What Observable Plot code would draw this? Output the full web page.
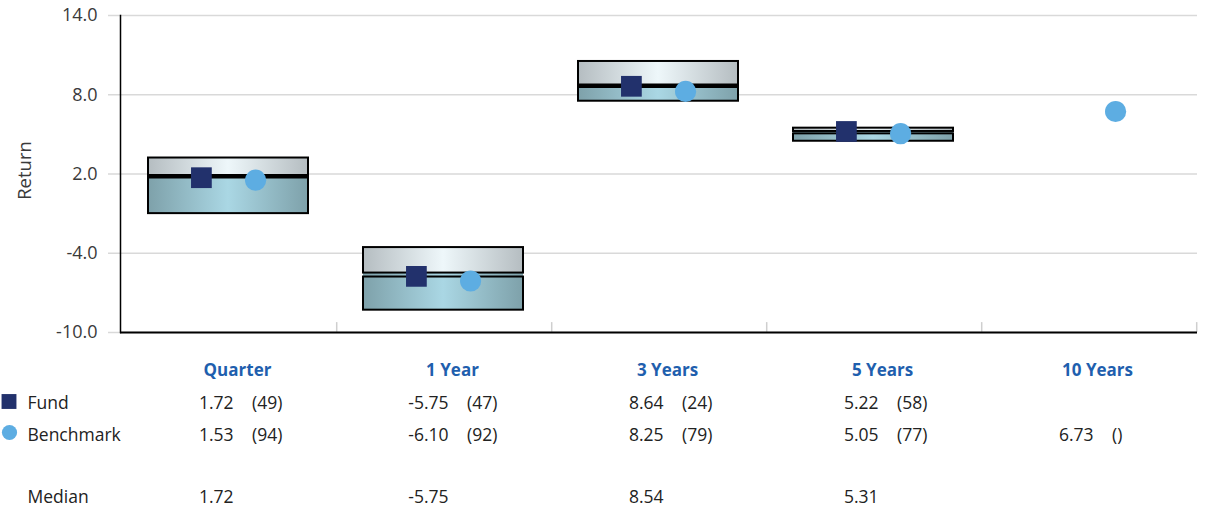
<!DOCTYPE html>
<html><head><meta charset="utf-8">
<script src="https://cdn.jsdelivr.net/npm/d3@7"></script>
<script src="https://cdn.jsdelivr.net/npm/@observablehq/plot@0.6"></script>
<style>body{margin:0;background:#fff;}</style>
</head><body><div id="chart"></div>
<script>
const categories = ["Quarter", "1 Year", "3 Years", "5 Years", "10 Years"];
const fundReturn = [1.72, -5.75, 8.64, 5.22, null];
const fundRank = [49, 47, 24, 58, null];
const benchReturn = [1.53, -6.10, 8.25, 5.05, 6.73];
const benchRank = [94, 92, 79, 77, null];
const medianReturn = [1.72, -5.75, 8.54, 5.31, null];
const boxTop = [3.21, -3.57, 10.52, 5.47, null];
const boxUpperBottom = [1.83, -5.50, 8.68, 5.22, null];
const boxLowerTop = [1.83, -5.80, 8.68, 5.04, null];
const boxBottom = [-1.0, -8.31, 7.51, 4.48, null];
const yTicks = [-10, -4, 2, 8, 14];

const rows = categories.map((cat, i) => ({
  cat, fund: fundReturn[i], fundRank: fundRank[i], bench: benchReturn[i], benchRank: benchRank[i],
  median: medianReturn[i], top: boxTop[i], hi: boxUpperBottom[i], lo: boxLowerTop[i], bottom: boxBottom[i]
}));
const boxes = rows.filter(d => d.top != null);
const solidLines = boxes.filter(d => d.hi === d.lo);
const funds = rows.filter(d => d.fund != null);
const benches = rows.filter(d => d.bench != null);
const medians = rows.filter(d => d.median != null);

const W = 1205, H = 507, mL = 120, mR = 8, mT = 15, mB = 175;
const bw = (W - mL - mR) / categories.length;

const defs = () => {
  const el = d3.create("svg:defs");
  const grad = (id, stops) => {
    const g = el.append("linearGradient").attr("id", id).attr("x1", 0).attr("x2", 1).attr("y1", 0).attr("y2", 0);
    stops.forEach(([o, c]) => g.append("stop").attr("offset", o).attr("stop-color", c));
  };
  grad("gUp", [[0, "#b5bdc1"], [0.5, "#eef7fa"], [1, "#b5bdc1"]]);
  grad("gLow", [[0, "#7ea1aa"], [0.5, "#aad7e4"], [1, "#7ea1aa"]]);
  return el.node();
};

const textColor = "#222";
const fs = 17.5;
const rowText = (label, dy) => Plot.text([label], {frameAnchor: "bottom-left", dx: 27 - mL, dy, lineAnchor: "bottom", textAnchor: "start", fill: textColor, fontSize: fs});

const chart = Plot.plot({
  width: W, height: H,
  marginLeft: mL, marginRight: mR, marginTop: mT, marginBottom: mB,
  style: {fontFamily: "'Open Sans', 'Noto Sans', sans-serif", background: "white", color: textColor},
  x: {type: "band", domain: categories, padding: 0, axis: null},
  y: {domain: [-10, 14], axis: null},
  marks: [
    defs,
    Plot.gridY({ticks: yTicks, stroke: "#d9d9d9", strokeOpacity: 1, strokeWidth: 1.5}),
    Plot.axisY({ticks: yTicks, tickSize: 12, tickPadding: 11, tickFormat: d => d.toFixed(1), stroke: "#d9d9d9", strokeWidth: 1.5, fill: "#3a3a3a", fontSize: 18, label: null}),
    Plot.text(["Return"], {frameAnchor: "left", rotate: -90, textAnchor: "middle", dx: 24.5 - mL, dy: -3.5, fill: "#3a3a3a", fontSize: 18.5}),
    Plot.ruleX(categories, {x: d => d, y1: -10, y2: -9.25, dx: bw / 2, stroke: "#cfcfcf", strokeWidth: 1.5}),
    Plot.barY(boxes, {x: "cat", y1: "bottom", y2: "top", fill: "url(#gLow)", insetLeft: 27, insetRight: 28}),
    Plot.barY(boxes, {x: "cat", y1: "hi", y2: "top", fill: "url(#gUp)", stroke: "black", strokeWidth: 2, insetLeft: 27, insetRight: 28}),
    Plot.barY(boxes, {x: "cat", y1: "bottom", y2: "lo", fill: "url(#gLow)", stroke: "black", strokeWidth: 2, insetLeft: 27, insetRight: 28}),
    Plot.tickY(solidLines, {x: "cat", y: "hi", stroke: "black", strokeWidth: 4.5, insetLeft: 27, insetRight: 28}),
    Plot.ruleY([-10], {stroke: "black", strokeWidth: 2}),
    Plot.frame({anchor: "left", stroke: "black", strokeWidth: 1.5}),
    Plot.dot(funds, {x: "cat", y: "fund", symbol: "square", r: 11.7, fill: "#22316c", dx: -27.6}),
    Plot.dot(benches, {x: "cat", y: "bench", symbol: "circle", r: 10.6, fill: "#5dade2", dx: 26.6}),
    // category header row
    Plot.text(categories, {x: d => d, frameAnchor: "bottom", dx: 8.5, dy: 43.7, lineAnchor: "bottom", fill: "#1f5fae", fontWeight: "bold", fontSize: 17}),
    // legend symbols + row labels
    Plot.dot([0], {frameAnchor: "bottom-left", dx: 8.5 - mL, dy: 69, symbol: "square", r: 8.4, fill: "#22316c"}),
    Plot.dot([0], {frameAnchor: "bottom-left", dx: 9 - mL, dy: 100, symbol: "circle", r: 7.6, fill: "#5dade2"}),
    rowText("Fund", 76.3),
    rowText("Benchmark", 108),
    rowText("Median", 170.3),
    // table values
    Plot.text(funds, {x: "cat", text: d => d.fund.toFixed(2), frameAnchor: "bottom", dx: 4.5, dy: 76.3, lineAnchor: "bottom", textAnchor: "end", fill: textColor, fontSize: fs}),
    Plot.text(funds, {x: "cat", text: d => `(${d.fundRank ?? ""})`, frameAnchor: "bottom", dx: 23, dy: 76.3, lineAnchor: "bottom", textAnchor: "start", fill: textColor, fontSize: fs}),
    Plot.text(benches, {x: "cat", text: d => d.bench.toFixed(2), frameAnchor: "bottom", dx: 4.5, dy: 108, lineAnchor: "bottom", textAnchor: "end", fill: textColor, fontSize: fs}),
    Plot.text(benches, {x: "cat", text: d => `(${d.benchRank ?? ""})`, frameAnchor: "bottom", dx: 23, dy: 108, lineAnchor: "bottom", textAnchor: "start", fill: textColor, fontSize: fs}),
    Plot.text(medians, {x: "cat", text: d => d.median.toFixed(2), frameAnchor: "bottom", dx: 4.5, dy: 170.3, lineAnchor: "bottom", textAnchor: "end", fill: textColor, fontSize: fs})
  ]
});
document.getElementById("chart").append(chart);
</script>
</body></html>
